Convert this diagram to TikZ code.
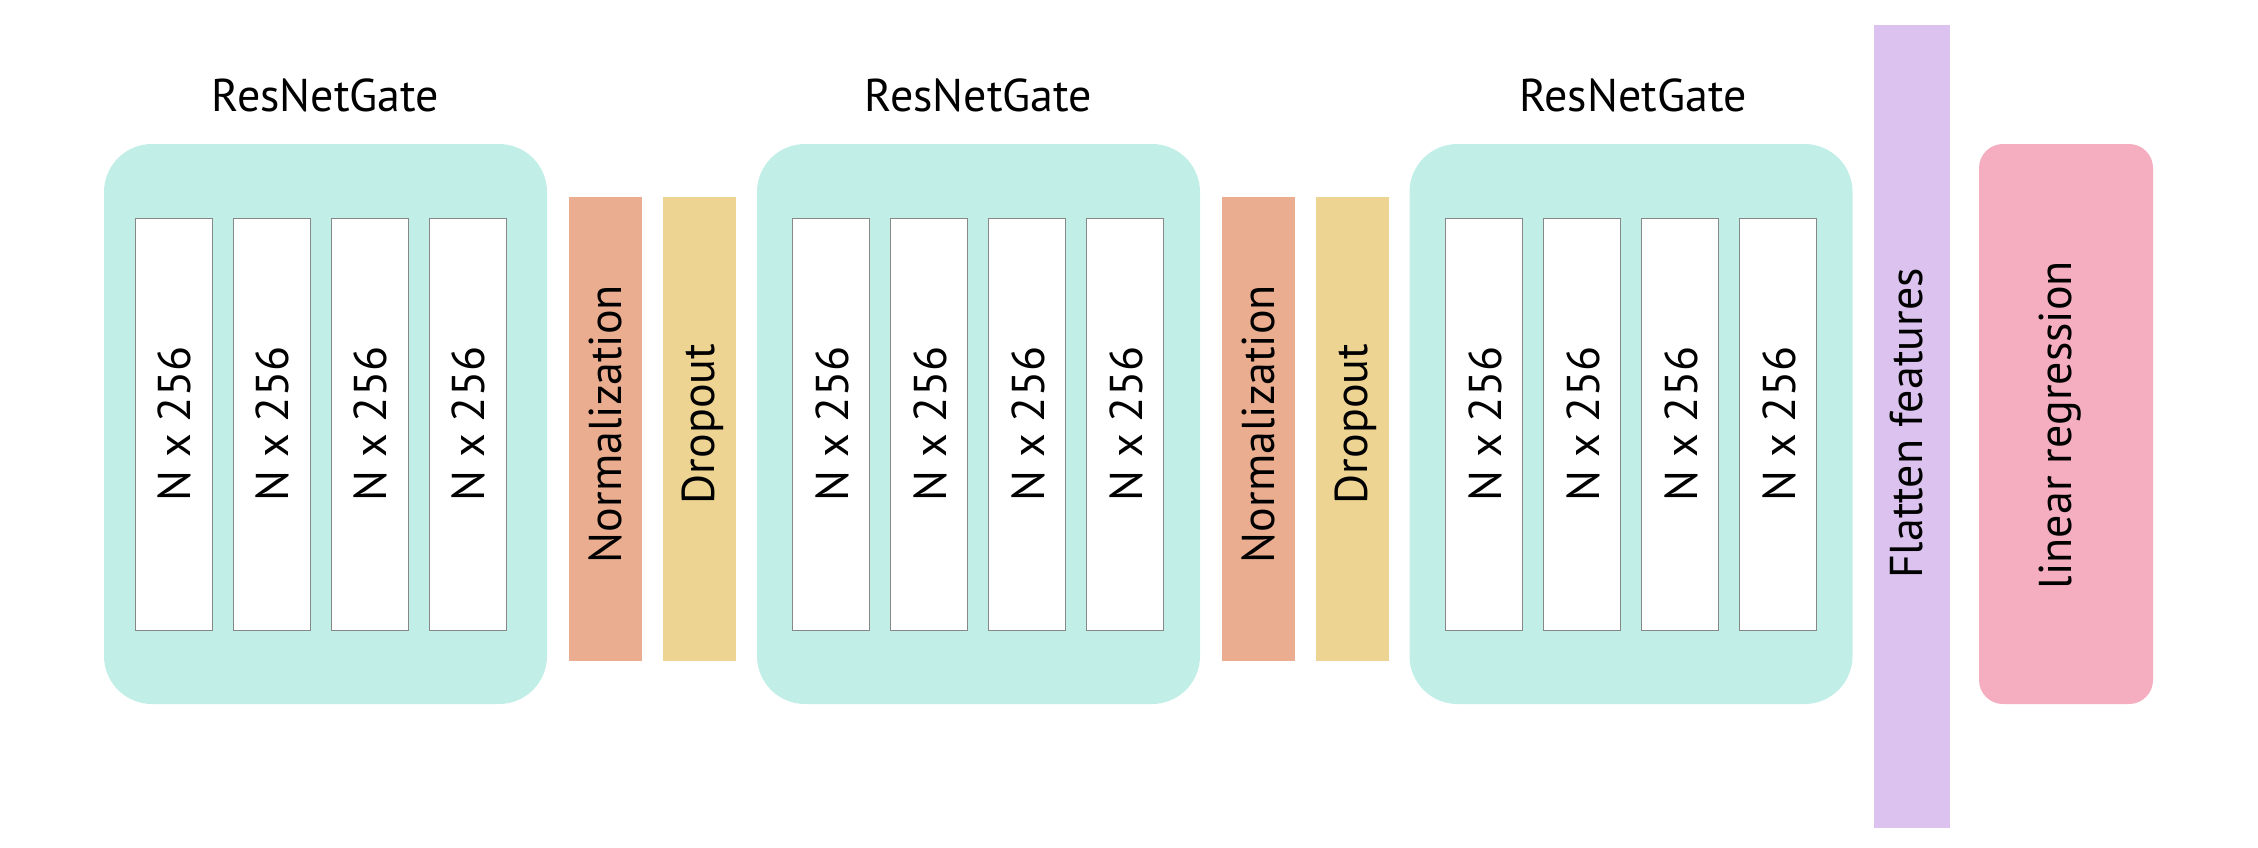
\documentclass[tikz,border=0pt]{standalone}
\usepackage{fontspec}
\setmainfont{PT Sans}
\definecolor{gatec}{HTML}{C1EFE8}
\definecolor{normc}{HTML}{EBAD8F}
\definecolor{dropc}{HTML}{EED492}
\definecolor{flatc}{HTML}{DCC2EE}
\definecolor{linc}{HTML}{F5AEC0}
\definecolor{edgec}{HTML}{888888}
\tikzset{
  box/.style={inner sep=0pt, outer sep=0pt, draw=none},
  gatebox/.style={box, fill=gatec, rounded corners=48pt, minimum width=443pt, minimum height=560pt},
  cellbox/.style={box, fill=white, draw=edgec, line width=1pt, minimum width=77pt, minimum height=412pt},
  normbox/.style={box, fill=normc, minimum width=73pt, minimum height=464pt},
  dropbox/.style={box, fill=dropc, minimum width=73pt, minimum height=464pt},
  lbl/.style={inner sep=0pt, outer sep=0pt, font=\fontsize{46}{50}\selectfont},
  vlbl/.style={lbl, rotate=90, anchor=base},
  ttl/.style={lbl, anchor=base}
}
\begin{document}
\begin{tikzpicture}[x=1pt,y=-1pt]
\useasboundingbox[fill=white] (0,0) rectangle (2258,847);
% gates
\node[gatebox] (g1) at (325.5,424) {};
\node[gatebox] (g2) at (978.5,424) {};
\node[gatebox] (g3) at (1631,424) {};
\node[ttl] (t1) at (325.5,111.7) {ResNetGate};
\node[ttl] (t2) at (978.5,111.7) {ResNetGate};
\node[ttl] (t3) at (1633,111.7) {ResNetGate};
% cells gate 1
\foreach \i/\x in {1/173.5,2/271.5,3/369.5,4/467.5}{
  \node[cellbox] (a\i) at (\x,424) {};
  \node[vlbl] (la\i) at (\x+17,424) {N x 256};
}
\foreach \i/\x in {1/831,2/929,3/1027,4/1125}{
  \node[cellbox] (b\i) at (\x,424) {};
  \node[vlbl] (lb\i) at (\x+17,424) {N x 256};
}
\foreach \i/\x in {1/1484,2/1582,3/1680,4/1778}{
  \node[cellbox] (c\i) at (\x,424) {};
  \node[vlbl] (lc\i) at (\x+17,424) {N x 256};
}
% normalization / dropout
\node[normbox] (n1) at (605.5,429) {};
\node[vlbl] (ln1) at (621.5,424) {Normalization};
\node[dropbox] (d1) at (699.5,429) {};
\node[vlbl] (ld1) at (714,424) {Dropout};
\node[normbox] (n2) at (1258.5,429) {};
\node[vlbl] (ln2) at (1274.5,424) {Normalization};
\node[dropbox] (d2) at (1352.5,429) {};
\node[vlbl] (ld2) at (1367,424) {Dropout};
% flatten
\node[box, fill=flatc, minimum width=76pt, minimum height=803.5pt] (fl) at (1912,426.25) {};
\node[vlbl] (lfl) at (1922.7,423.5) {Flatten features};
% linear regression
\node[box, fill=linc, rounded corners=24pt, minimum width=174pt, minimum height=560pt] (lr) at (2066,424) {};
\node[vlbl] (llr) at (2071.7,425) {linear regression};
\end{tikzpicture}
\end{document}
